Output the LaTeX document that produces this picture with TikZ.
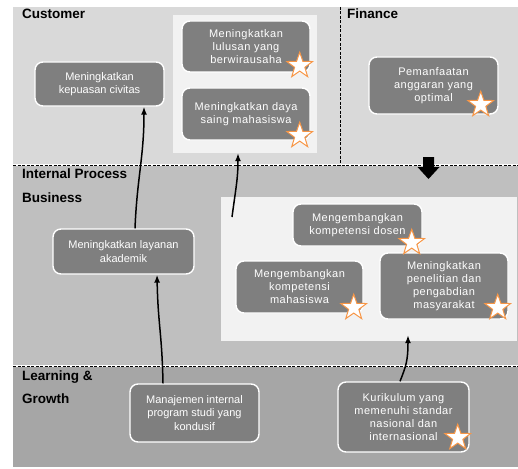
\documentclass[tikz,border=0pt]{standalone}
\usepackage{fontspec}
\setmainfont{Liberation Sans}
\newfontfamily\spacedfont[LetterSpace=4.5]{Liberation Sans}
\usepackage{xcolor}
\usetikzlibrary{arrows.meta}
\usetikzlibrary{calc}
\usetikzlibrary{shapes.geometric, arrows}

\definecolor{bandcust}{HTML}{D9D9D9}
\definecolor{bandproc}{HTML}{BFBFBF}
\definecolor{bandlearn}{HTML}{A6A6A6}
\definecolor{panelgray}{HTML}{F2F2F2}
\definecolor{goalgray}{HTML}{7F7F7F}
\definecolor{staredge}{HTML}{F79646}

\begin{document}
\begin{tikzpicture}[x=1pt,y=-1pt,
    goal/.style={draw=white, line width=1.4pt, fill=goalgray, rounded corners=8pt,
      text=white, align=center, minimum width=129pt, inner sep=2pt,
      font=\fontsize{11}{13.5}\selectfont},
    spaced/.style={font=\spacedfont\fontsize{11}{13}\selectfont},
    award/.style={star, star points=5, star point ratio=2.5, minimum size=27pt,
      inner sep=0pt, fill=white, draw=staredge, line width=1pt},
    panel/.style={fill=panelgray, inner sep=0pt},
    band/.style={font=\fontsize{13.5}{16}\selectfont\bfseries, anchor=base west, inner sep=0pt},
    divider/.style={dash pattern=on 3pt off 1.5pt, line width=0.8pt},
    link/.style={line width=1.5pt, -{Latex[length=8pt,width=6pt]}}]
        \newcommand{\bscleft}{13}
        \newcommand{\bscright}{518}
        \newcommand{\bsctop}{7}
        \newcommand{\bscprocy}{165}
        \newcommand{\bsclearny}{366}
        \newcommand{\bscbottom}{467}
        \newcommand{\bscfinx}{340}
        \useasboundingbox (0,0) rectangle (518,468);
        % perspective bands
        \fill[bandcust] (\bscleft,\bsctop) rectangle (\bscright,\bscprocy);
        \fill[bandproc] (\bscleft,\bscprocy) rectangle (\bscright,\bsclearny);
        \fill[bandlearn] (\bscleft,\bsclearny) rectangle (\bscright,\bscbottom);
        \draw[white, line width=1.2pt] (\bscleft,\bscprocy) -- (\bscright,\bscprocy);
        \draw[white, line width=1.2pt] (\bscleft,\bsclearny) -- (\bscright,\bsclearny);
        \draw[divider] (\bscleft,\bscprocy) -- (\bscright,\bscprocy);
        \draw[divider] (\bscleft,\bsclearny) -- (\bscright,\bsclearny);
        \draw[divider] (\bscfinx,\bsctop) -- (\bscfinx,\bscprocy);
        \node[band] (custtitle) at (22,18.5) {Customer};
        \node[band] (fintitle) at (347,18.5) {Finance};
        \node[band] (proctitle) at (22,178) {Internal Process};
        \node[band] (bustitle) at (22,202) {Business};
        \node[band] (learntitle) at (22,380) {Learning \&};
        \node[band] (growtitle) at (22,403) {Growth};
        % light panels
        \node[panel, minimum width=144pt, minimum height=138pt] (cpanel) at (245,84) {};
        \node[panel, minimum width=296pt, minimum height=144pt] (ipanel) at (369,269) {};
        % goals
        \node[goal, minimum height=44pt] (kepuasan) at (99.5,84) {Meningkatkan\\kepuasan civitas};
        \node[goal, spaced, minimum width=128pt, minimum height=51pt] (lulusan) at (246,46.5) {Meningkatkan\\lulusan yang\\berwirausaha};
        \node[goal, spaced, minimum width=128pt, minimum height=52pt] (dayasaing) at (246,114) {Meningkatkan daya\\saing mahasiswa};
        \node[goal, spaced, minimum height=57pt] (anggaran) at (433.5,85.5) {Pemanfaatan\\anggaran yang\\optimal};
        \node[goal, spaced, minimum height=42pt] (dosen) at (357.5,225) {Mengembangkan\\kompetensi dosen};
        \node[goal, spaced, minimum width=127pt, minimum height=52pt] (kommhs) at (299.5,287) {Mengembangkan\\kompetensi\\mahasiswa};
        \node[goal, spaced, minimum width=128pt, minimum height=66pt] (penelitian) at (444,286) {Meningkatkan\\penelitian dan\\pengabdian\\masyarakat};
        \node[goal, minimum width=141pt, minimum height=45pt] (layanan) at (123.5,251.5) {Meningkatkan layanan\\akademik};
        \node[goal, minimum height=58pt] (manajemen) at (194.5,413) {Manajemen internal\\program studi yang\\kondusif};
        \node[goal, spaced, minimum width=131pt, minimum height=70pt] (kurikulum) at (403.5,417) {Kurikulum yang\\memenuhi standar\\nasional dan\\internasional};
        % stars
        \node[award] (lulusanstar) at ([shift={(-11,-7)}]lulusan.south east) {};
        \node[award] (dayasaingstar) at ([shift={(-11,-5)}]dayasaing.south east) {};
        \node[award] (anggaranstar) at ([shift={(-18,-10)}]anggaran.south east) {};
        \node[award] (dosenstar) at ([shift={(-11,-4)}]dosen.south east) {};
        \node[award] (kommhsstar) at ([shift={(-10,-6)}]kommhs.south east) {};
        \node[award] (penelitianstar) at ([shift={(-11,-12)}]penelitian.south east) {};
        \node[award] (kurikulumstar) at ([shift={(-12,-15)}]kurikulum.south east) {};
        % links
        \coordinate (procrise) at (232,217);
        \draw[link] ([xshift=11.5pt]layanan.north) .. controls +(2,-50) and +(0,50) .. ([xshift=44.5pt]kepuasan.south);
        \draw[link] (procrise) .. controls +(4,-30) and +(0,25) .. ([xshift=-7pt]cpanel.south);
        \draw[link] ([xshift=-31.5pt]manajemen.north) .. controls +(-1,-50) and +(1,50) .. ([xshift=33.5pt]layanan.south);
        \draw[link] ([xshift=-3.5pt]kurikulum.north) .. controls +(6,-15) and +(0,25) .. ([shift={(39,-6)}]ipanel.south);
        \fill (423,157) -- (434,157) -- (434,167) -- (439.5,167) -- (428.5,179) -- (417.5,167) -- (423,167) -- cycle;
    \end{tikzpicture}
\end{document}
